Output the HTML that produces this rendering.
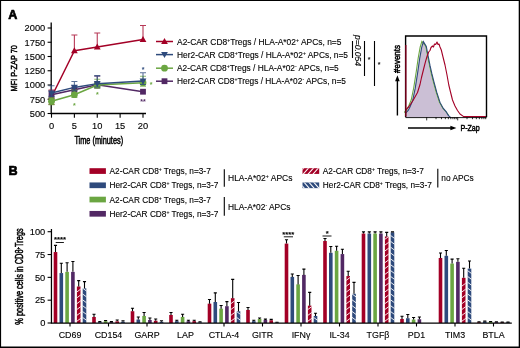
<!DOCTYPE html>
<html lang="en"><head><meta charset="utf-8"><title>Figure</title>
<style>html,body{margin:0;padding:0;background:#fff}svg{display:block;font-family:"Liberation Sans", sans-serif;will-change:transform}text{stroke:#000;stroke-width:.12px}text.c{stroke-width:.5px}text.s{stroke:none}text.h{stroke-width:.7px;stroke-linejoin:round}</style>
</head><body>
<svg width="520" height="348" viewBox="0 0 520 348">
<rect x="0" y="0" width="520" height="348" fill="#000"/>
<rect x="1.1" y="1" width="517.6" height="345.5" fill="#fff"/>
<text x="8.3" y="18.7" font-size="12.6" text-anchor="start" font-weight="bold" fill="#000" class="h">A</text>
<path d="M51.2 22.5V113.5H146" fill="none" stroke="#000" stroke-width="1.3"/>
<path d="M47.6 113.50H51.5" stroke="#000" stroke-width="1.1"/>
<text x="45.3" y="116.8" font-size="9.3" text-anchor="end" font-weight="normal" fill="#000" >500</text>
<path d="M47.6 99.25H51.5" stroke="#000" stroke-width="1.1"/>
<text x="45.3" y="102.55" font-size="9.3" text-anchor="end" font-weight="normal" fill="#000" >750</text>
<path d="M47.6 85.00H51.5" stroke="#000" stroke-width="1.1"/>
<text x="45.3" y="88.3" font-size="9.3" text-anchor="end" font-weight="normal" fill="#000" >1000</text>
<path d="M47.6 70.75H51.5" stroke="#000" stroke-width="1.1"/>
<text x="45.3" y="74.05" font-size="9.3" text-anchor="end" font-weight="normal" fill="#000" >1250</text>
<path d="M47.6 56.50H51.5" stroke="#000" stroke-width="1.1"/>
<text x="45.3" y="59.8" font-size="9.3" text-anchor="end" font-weight="normal" fill="#000" >1500</text>
<path d="M47.6 42.25H51.5" stroke="#000" stroke-width="1.1"/>
<text x="45.3" y="45.55" font-size="9.3" text-anchor="end" font-weight="normal" fill="#000" >1750</text>
<path d="M47.6 28.00H51.5" stroke="#000" stroke-width="1.1"/>
<text x="45.3" y="31.3" font-size="9.3" text-anchor="end" font-weight="normal" fill="#000" >2000</text>
<path d="M51.50 113.5V117.7" stroke="#000" stroke-width="1.1"/>
<text x="51.5" y="129.3" font-size="9.3" text-anchor="middle" font-weight="normal" fill="#000" >0</text>
<path d="M74.38 113.5V117.7" stroke="#000" stroke-width="1.1"/>
<text x="74.38" y="129.3" font-size="9.3" text-anchor="middle" font-weight="normal" fill="#000" >5</text>
<path d="M97.25 113.5V117.7" stroke="#000" stroke-width="1.1"/>
<text x="97.25" y="129.3" font-size="9.3" text-anchor="middle" font-weight="normal" fill="#000" >10</text>
<path d="M120.12 113.5V117.7" stroke="#000" stroke-width="1.1"/>
<text x="120.12" y="129.3" font-size="9.3" text-anchor="middle" font-weight="normal" fill="#000" >15</text>
<path d="M143.00 113.5V117.7" stroke="#000" stroke-width="1.1"/>
<text x="143.0" y="129.3" font-size="9.3" text-anchor="middle" font-weight="normal" fill="#000" >20</text>
<text x="98.75" y="143.7" font-size="10.3" text-anchor="middle" font-weight="normal" fill="#000" textLength="48.75" lengthAdjust="spacingAndGlyphs" class="c">Time (minutes)</text>
<text transform="translate(17.2,68.3) rotate(-90)" font-size="9.6" text-anchor="middle" class="c" fill="#000" textLength="46.2" lengthAdjust="spacingAndGlyphs">MFI P-ZAP 70</text>
<path d="M51.50 96.97V90.13M48.50 90.13H54.50" stroke="#a30026" stroke-width="1.1" fill="none" opacity="0.78"/>
<path d="M51.50 96.97V104.38M48.50 104.38H54.50" stroke="#a30026" stroke-width="1.1" fill="none" opacity="0.78"/>
<path d="M74.38 50.74V35.01M71.38 35.01H77.38" stroke="#a30026" stroke-width="1.1" fill="none" opacity="0.78"/>
<path d="M97.25 46.98V33.02M94.25 33.02H100.25" stroke="#a30026" stroke-width="1.1" fill="none" opacity="0.78"/>
<path d="M143.00 39.51V25.49M140.00 25.49H146.00" stroke="#a30026" stroke-width="1.1" fill="none" opacity="0.78"/>
<polyline points="51.50,96.97 74.38,50.74 97.25,46.98 143.00,39.51" fill="none" stroke="#a30026" stroke-width="1.5" stroke-linejoin="round"/>
<path d="M48.10 99.57L51.50 93.57L54.90 99.57Z" fill="#a30026"/>
<path d="M70.97 53.34L74.38 47.34L77.78 53.34Z" fill="#a30026"/>
<path d="M93.85 49.58L97.25 43.58L100.65 49.58Z" fill="#a30026"/>
<path d="M139.60 42.11L143.00 36.11L146.40 42.11Z" fill="#a30026"/>
<path d="M51.50 94.69V91.27M48.50 91.27H54.50" stroke="#522864" stroke-width="1.1" fill="none" opacity="0.78"/>
<path d="M51.50 94.69V98.11M48.50 98.11H54.50" stroke="#522864" stroke-width="1.1" fill="none" opacity="0.78"/>
<path d="M74.38 89.84V85.86M71.38 85.86H77.38" stroke="#522864" stroke-width="1.1" fill="none" opacity="0.78"/>
<path d="M74.38 89.84V93.27M71.38 93.27H77.38" stroke="#522864" stroke-width="1.1" fill="none" opacity="0.78"/>
<path d="M97.25 84.72V76.16M94.25 76.16H100.25" stroke="#522864" stroke-width="1.1" fill="none" opacity="0.78"/>
<path d="M97.25 84.72V88.13M94.25 88.13H100.25" stroke="#522864" stroke-width="1.1" fill="none" opacity="0.78"/>
<polyline points="51.50,94.69 74.38,89.84 97.25,84.72 143.00,91.73" fill="none" stroke="#522864" stroke-width="1.5" stroke-linejoin="round"/>
<rect x="48.60" y="91.79" width="5.8" height="5.8" fill="#522864"/>
<rect x="71.47" y="86.94" width="5.8" height="5.8" fill="#522864"/>
<rect x="94.35" y="81.81" width="5.8" height="5.8" fill="#522864"/>
<rect x="140.10" y="88.83" width="5.8" height="5.8" fill="#522864"/>
<path d="M51.50 101.25V97.83M48.50 97.83H54.50" stroke="#6ba642" stroke-width="1.1" fill="none" opacity="0.78"/>
<path d="M51.50 101.25V104.66M48.50 104.66H54.50" stroke="#6ba642" stroke-width="1.1" fill="none" opacity="0.78"/>
<path d="M74.38 94.69V90.13M71.38 90.13H77.38" stroke="#6ba642" stroke-width="1.1" fill="none" opacity="0.78"/>
<path d="M74.38 94.69V97.54M71.38 97.54H77.38" stroke="#6ba642" stroke-width="1.1" fill="none" opacity="0.78"/>
<path d="M97.25 85.00V79.30M94.25 79.30H100.25" stroke="#6ba642" stroke-width="1.1" fill="none" opacity="0.78"/>
<path d="M97.25 85.00V87.85M94.25 87.85H100.25" stroke="#6ba642" stroke-width="1.1" fill="none" opacity="0.78"/>
<path d="M143.00 82.72V76.28M140.00 76.28H146.00" stroke="#6ba642" stroke-width="1.1" fill="none" opacity="0.78"/>
<path d="M143.00 82.72V86.14M140.00 86.14H146.00" stroke="#6ba642" stroke-width="1.1" fill="none" opacity="0.78"/>
<polyline points="51.50,101.25 74.38,94.69 97.25,85.00 143.00,82.72" fill="none" stroke="#6ba642" stroke-width="1.5" stroke-linejoin="round"/>
<circle cx="51.50" cy="101.25" r="3.4" fill="#6ba642"/>
<circle cx="74.38" cy="94.69" r="3.4" fill="#6ba642"/>
<circle cx="97.25" cy="85.00" r="3.4" fill="#6ba642"/>
<circle cx="143.00" cy="82.72" r="3.4" fill="#6ba642"/>
<path d="M51.50 92.98V85.80M48.50 85.80H54.50" stroke="#2e4a7c" stroke-width="1.1" fill="none" opacity="0.78"/>
<path d="M51.50 92.98V96.40M48.50 96.40H54.50" stroke="#2e4a7c" stroke-width="1.1" fill="none" opacity="0.78"/>
<path d="M74.38 87.39V81.52M71.38 81.52H77.38" stroke="#2e4a7c" stroke-width="1.1" fill="none" opacity="0.78"/>
<path d="M74.38 87.39V90.81M71.38 90.81H77.38" stroke="#2e4a7c" stroke-width="1.1" fill="none" opacity="0.78"/>
<path d="M97.25 83.63V75.59M94.25 75.59H100.25" stroke="#2e4a7c" stroke-width="1.1" fill="none" opacity="0.78"/>
<path d="M97.25 83.63V87.05M94.25 87.05H100.25" stroke="#2e4a7c" stroke-width="1.1" fill="none" opacity="0.78"/>
<path d="M143.00 81.01V72.69M140.00 72.69H146.00" stroke="#2e4a7c" stroke-width="1.1" fill="none" opacity="0.78"/>
<path d="M143.00 81.01V84.43M140.00 84.43H146.00" stroke="#2e4a7c" stroke-width="1.1" fill="none" opacity="0.78"/>
<polyline points="51.50,92.98 74.38,87.39 97.25,83.63 143.00,81.01" fill="none" stroke="#2e4a7c" stroke-width="1.5" stroke-linejoin="round"/>
<path d="M48.10 90.38L51.50 96.38L54.90 90.38Z" fill="#2e4a7c"/>
<path d="M70.97 84.79L74.38 90.79L77.78 84.79Z" fill="#2e4a7c"/>
<path d="M93.85 81.03L97.25 87.03L100.65 81.03Z" fill="#2e4a7c"/>
<path d="M139.60 78.41L143.00 84.41L146.40 78.41Z" fill="#2e4a7c"/>
<text x="143" y="71.5" font-size="7" text-anchor="middle" font-weight="bold" fill="#2e4a7c" class="s">*</text>
<text x="151" y="86.5" font-size="7" text-anchor="middle" font-weight="bold" fill="#6ba642" class="s">*</text>
<text x="74.25" y="107.5" font-size="7" text-anchor="middle" font-weight="bold" fill="#6ba642" class="s">*</text>
<text x="97.25" y="96.8" font-size="7" text-anchor="middle" font-weight="bold" fill="#6ba642" class="s">*</text>
<text x="143" y="103.5" font-size="7" text-anchor="middle" font-weight="bold" fill="#522864" class="s">**</text>
<path d="M156 41.5H173" stroke="#a30026" stroke-width="1.5"/>
<path d="M161.10 44.10L164.50 38.10L167.90 44.10Z" fill="#a30026"/>
<text x="177" y="44.7" font-size="9" text-anchor="start" font-weight="normal" fill="#000" textLength="164.5" lengthAdjust="spacingAndGlyphs" >A2-CAR CD8<tspan dy="-3" font-size="5.5">+</tspan><tspan dy="3">Tregs / HLA-A*02</tspan><tspan dy="-3" font-size="5.5">+</tspan><tspan dy="3"> APCs, n=5</tspan></text>
<path d="M156 54.6H173" stroke="#2e4a7c" stroke-width="1.5"/>
<path d="M161.10 52.00L164.50 58.00L167.90 52.00Z" fill="#2e4a7c"/>
<text x="177" y="57.8" font-size="9" text-anchor="start" font-weight="normal" fill="#000" textLength="171" lengthAdjust="spacingAndGlyphs" >Her2-CAR CD8<tspan dy="-3" font-size="5.5">+</tspan><tspan dy="3">Tregs / HLA-A*02</tspan><tspan dy="-3" font-size="5.5">+</tspan><tspan dy="3"> APCs, n=5</tspan></text>
<path d="M156 68.2H173" stroke="#6ba642" stroke-width="1.5"/>
<circle cx="164.50" cy="68.20" r="3.4" fill="#6ba642"/>
<text x="177" y="71.4" font-size="9" text-anchor="start" font-weight="normal" fill="#000" textLength="161.75" lengthAdjust="spacingAndGlyphs" >A2-CAR CD8<tspan dy="-3" font-size="5.5">+</tspan><tspan dy="3">Tregs / HLA-A*02</tspan><tspan dy="-3" font-size="5.5">-</tspan><tspan dy="3"> APCs, n=5</tspan></text>
<path d="M156 81.2H173" stroke="#522864" stroke-width="1.5"/>
<rect x="161.60" y="78.30" width="5.8" height="5.8" fill="#522864"/>
<text x="177" y="84.4" font-size="9" text-anchor="start" font-weight="normal" fill="#000" textLength="169" lengthAdjust="spacingAndGlyphs" >Her2-CAR CD8<tspan dy="-3" font-size="5.5">+</tspan><tspan dy="3">Tregs / HLA-A*02</tspan><tspan dy="-3" font-size="5.5">-</tspan><tspan dy="3"> APCs, n=5</tspan></text>
<path d="M352.5 41V58M364.5 41V76M374.5 41V86" stroke="#000" stroke-width="1.1" fill="none"/>
<text transform="translate(354.7,35) rotate(90)" font-size="8.6" font-style="italic" fill="#000" textLength="31" lengthAdjust="spacingAndGlyphs">p=0.054</text>
<text x="369.2" y="61.5" font-size="7" text-anchor="middle" font-weight="bold" fill="#111" class="s">*</text>
<text x="379.2" y="66.8" font-size="7" text-anchor="middle" font-weight="bold" fill="#111" class="s">*</text>
<path d="M405.6 117.2L405.6 112.5L408 110L410 106L412.5 100L415 88L417.5 72L419.5 58L421.5 47L423.2 41.3L425 46L426.5 54L428.7 65L430.5 73L432.5 81L435.5 92L438.7 102L442 108L445 111.5L448 115L450.5 117.2Z" fill="#cbbfd5"/>
<path d="M404.3 112.5L406.7 110L408.7 106L411.2 100L413.7 88L416.2 72L418.2 58L420.2 47L421.9 41.3L425.6 46L427.1 54L429.3 65L431.1 73L433.1 81L436.1 92L439.3 102L442.6 108L445.6 111.5L448.6 115" fill="none" stroke="#6ba642" stroke-width="1.1"/>
<path d="M405.8 112.9L408.2 110.4L410.2 106.4L412.7 100.4L415.2 88.4L417.7 72.4L419.7 58.4L421.7 47.4L423.4 41.699999999999996L426.3 46.4L427.8 54.4L430.0 65.4L431.8 73.4L433.8 81.4L436.8 92.4L440.0 102.4L443.3 108.4L446.3 111.9L448.3 115.4L450.8 117.60000000000001" fill="none" stroke="#2e4a7c" stroke-width="1.1"/>
<path d="M405.9 109.8L409 106.5L413 100.5L417.5 92.5L420 84.5L421.5 77.5L423.5 69.5L425.3 62.3L427 56.5L428.7 52L430 50.5L431 47.5L432.5 46L433.5 47L434.5 44L435.7 44.5L437 42L438 44.5L439 44L440 47L441.3 50L443 57L445 65L447 75L448.8 85L450.5 92L452.5 100L455 106L457.5 110.5L460 114L463.7 116.6L486 116.6" fill="none" stroke="#a30026" stroke-width="1.1" stroke-linejoin="round"/>
<path d="M405.6 117.2V36H486.5V117.2" fill="none" stroke="#000" stroke-width="1.4"/>
<path d="M405.6 117.60000000000001H486.5" fill="none" stroke="#000" stroke-width="0.9"/>
<path d="M405.9 45V116.6" stroke="#a30026" stroke-width="1.1"/>
<path d="M426.7 117.2v3.2M436.03 117.2v2M441.49 117.2v2M445.36 117.2v2M448.37 117.2v2M450.82 117.2v2M452.90 117.2v2M454.70 117.2v2M456.28 117.2v2M457.7 117.2v3.2M467.03 117.2v2M472.49 117.2v2M476.36 117.2v2M479.37 117.2v2M481.82 117.2v2M483.90 117.2v2M485.70 117.2v2" stroke="#000" stroke-width="0.8"/>
<path d="M397.4 115.5V80" stroke="#000" stroke-width="1.4"/><path d="M397.4 75.3l-2.3 6h4.6z" fill="#000"/>
<path d="M408 128H452" stroke="#000" stroke-width="1.4"/><path d="M456.4 128l-6 -2.3v4.6z" fill="#000"/>
<text x="460.4" y="131.2" font-size="9.4" text-anchor="start" font-weight="normal" fill="#000" textLength="19.4" lengthAdjust="spacingAndGlyphs" class="c">P-Zap</text>
<text transform="translate(400.4,73) rotate(-90)" font-size="9.6" class="c" fill="#000" textLength="28" lengthAdjust="spacingAndGlyphs">#events</text>
<text x="8.5" y="174.5" font-size="12.6" text-anchor="start" font-weight="bold" fill="#000" class="h">B</text>
<defs><clipPath id="c1"><rect x="302.5" y="168.2" width="16.7" height="5.7"/></clipPath><clipPath id="c2"><rect x="302.5" y="182.45" width="16.7" height="5.7"/></clipPath></defs>
<rect x="89.5" y="168.2" width="16.4" height="5.7" fill="#a30026"/>
<text x="109.5" y="174.2" font-size="9" text-anchor="start" font-weight="normal" fill="#000" textLength="101.25" lengthAdjust="spacingAndGlyphs" >A2-CAR CD8<tspan dy="-3" font-size="5.5">+</tspan><tspan dy="3"> Tregs, n=3-7</tspan></text>
<rect x="89.5" y="182.45" width="16.4" height="5.7" fill="#2e4a7c"/>
<text x="109.5" y="188.45" font-size="9" text-anchor="start" font-weight="normal" fill="#000" textLength="108.75" lengthAdjust="spacingAndGlyphs" >Her2-CAR CD8<tspan dy="-3" font-size="5.5">+</tspan><tspan dy="3"> Tregs, n=3-7</tspan></text>
<rect x="89.5" y="196.7" width="16.4" height="5.7" fill="#6ba642"/>
<text x="109.5" y="202.7" font-size="9" text-anchor="start" font-weight="normal" fill="#000" textLength="101.25" lengthAdjust="spacingAndGlyphs" >A2-CAR CD8<tspan dy="-3" font-size="5.5">+</tspan><tspan dy="3"> Tregs, n=3-7</tspan></text>
<rect x="89.5" y="210.95" width="16.4" height="5.7" fill="#522864"/>
<text x="109.5" y="216.95" font-size="9" text-anchor="start" font-weight="normal" fill="#000" textLength="108.75" lengthAdjust="spacingAndGlyphs" >Her2-CAR CD8<tspan dy="-3" font-size="5.5">+</tspan><tspan dy="3"> Tregs, n=3-7</tspan></text>
<path d="M224.3 169.2V186.8M224.3 197V215.8M437.8 168.8V187.5" stroke="#000" stroke-width="1.1"/>
<text x="228" y="181.2" font-size="9" text-anchor="start" font-weight="normal" fill="#000" textLength="64.5" lengthAdjust="spacingAndGlyphs" >HLA-A*02<tspan dy="-3" font-size="5.5">+</tspan><tspan dy="3"> APCs</tspan></text>
<text x="228" y="209.5" font-size="9" text-anchor="start" font-weight="normal" fill="#000" textLength="62.5" lengthAdjust="spacingAndGlyphs" >HLA-A*02<tspan dy="-3" font-size="5.5">-</tspan><tspan dy="3"> APCs</tspan></text>
<rect x="302.5" y="168.2" width="16.7" height="5.7" fill="#a30026"/>
<rect x="302.5" y="182.45" width="16.7" height="5.7" fill="#2e4a7c"/>
<g clip-path="url(#c1)" stroke="#fff" stroke-width="1.05"><path d="M297.50 175.05L304.50 167.05"/><path d="M302.40 175.05L309.40 167.05"/><path d="M307.30 175.05L314.30 167.05"/><path d="M312.20 175.05L319.20 167.05"/></g>
<g clip-path="url(#c2)" stroke="#fff" stroke-width="1.05"><path d="M298.30 181.3L305.30 189.3"/><path d="M303.20 181.3L310.20 189.3"/><path d="M308.10 181.3L315.10 189.3"/><path d="M312.90 181.3L319.90 189.3"/></g>
<text x="322.8" y="174.2" font-size="9" text-anchor="start" font-weight="normal" fill="#000" textLength="101" lengthAdjust="spacingAndGlyphs" >A2-CAR CD8<tspan dy="-3" font-size="5.5">+</tspan><tspan dy="3"> Tregs, n=3-7</tspan></text>
<text x="322.8" y="188.45" font-size="9" text-anchor="start" font-weight="normal" fill="#000" textLength="109" lengthAdjust="spacingAndGlyphs" >Her2-CAR CD8<tspan dy="-3" font-size="5.5">+</tspan><tspan dy="3"> Tregs, n=3-7</tspan></text>
<text x="441.3" y="181.2" font-size="9" text-anchor="start" font-weight="normal" fill="#000" textLength="32.5" lengthAdjust="spacingAndGlyphs" >no APCs</text>
<path d="M47.6 323.00H51.75" stroke="#000" stroke-width="1.1"/>
<text x="45.3" y="326.3" font-size="9.3" text-anchor="end" font-weight="normal" fill="#000" >0</text>
<path d="M47.6 300.18H51.75" stroke="#000" stroke-width="1.1"/>
<text x="45.3" y="303.48" font-size="9.3" text-anchor="end" font-weight="normal" fill="#000" >25</text>
<path d="M47.6 277.35H51.75" stroke="#000" stroke-width="1.1"/>
<text x="45.3" y="280.65" font-size="9.3" text-anchor="end" font-weight="normal" fill="#000" >50</text>
<path d="M47.6 254.52H51.75" stroke="#000" stroke-width="1.1"/>
<text x="45.3" y="257.82" font-size="9.3" text-anchor="end" font-weight="normal" fill="#000" >75</text>
<path d="M47.6 231.70H51.75" stroke="#000" stroke-width="1.1"/>
<text x="45.3" y="235.0" font-size="9.3" text-anchor="end" font-weight="normal" fill="#000" >100</text>
<text transform="translate(22.5,276.5) rotate(-90)" font-size="10.3" text-anchor="middle" class="c" fill="#000" textLength="96.5" lengthAdjust="spacingAndGlyphs">% positive cells in CD8<tspan dy="-3" font-size="6">+</tspan><tspan dy="3">Tregs</tspan></text>
<text x="70.0" y="338.2" font-size="8.9" text-anchor="middle" font-weight="normal" fill="#000" >CD69</text>
<text x="108.5" y="338.2" font-size="8.9" text-anchor="middle" font-weight="normal" fill="#000" >CD154</text>
<text x="147.0" y="338.2" font-size="8.9" text-anchor="middle" font-weight="normal" fill="#000" >GARP</text>
<text x="185.5" y="338.2" font-size="8.9" text-anchor="middle" font-weight="normal" fill="#000" >LAP</text>
<text x="224.0" y="338.2" font-size="8.9" text-anchor="middle" font-weight="normal" fill="#000" >CTLA-4</text>
<text x="262.5" y="338.2" font-size="8.9" text-anchor="middle" font-weight="normal" fill="#000" >GITR</text>
<text x="301.0" y="338.2" font-size="8.9" text-anchor="middle" font-weight="normal" fill="#000" >IFNγ</text>
<text x="339.5" y="338.2" font-size="8.9" text-anchor="middle" font-weight="normal" fill="#000" >IL-34</text>
<text x="378.0" y="338.2" font-size="8.9" text-anchor="middle" font-weight="normal" fill="#000" >TGFβ</text>
<text x="416.5" y="338.2" font-size="8.9" text-anchor="middle" font-weight="normal" fill="#000" >PD1</text>
<text x="455.0" y="338.2" font-size="8.9" text-anchor="middle" font-weight="normal" fill="#000" >TIM3</text>
<text x="493.5" y="338.2" font-size="8.9" text-anchor="middle" font-weight="normal" fill="#000" >BTLA</text>
<rect x="53.70" y="252.06" width="3.6" height="70.94" fill="#a30026"/><rect x="59.50" y="273.06" width="3.6" height="49.94" fill="#2e4a7c"/><rect x="65.30" y="271.87" width="3.6" height="51.13" fill="#6ba642"/><rect x="71.10" y="271.87" width="3.6" height="51.13" fill="#522864"/><rect x="76.90" y="286.48" width="3.6" height="36.52" fill="#a30026"/><rect x="82.70" y="288.31" width="3.6" height="34.69" fill="#2e4a7c"/><rect x="92.20" y="316.97" width="3.6" height="6.03" fill="#a30026"/><rect x="98.00" y="322.09" width="3.6" height="0.91" fill="#2e4a7c"/><rect x="103.80" y="321.17" width="3.6" height="1.83" fill="#6ba642"/><rect x="109.60" y="322.09" width="3.6" height="0.91" fill="#522864"/><rect x="115.40" y="321.36" width="3.6" height="1.64" fill="#a30026"/><rect x="121.20" y="321.63" width="3.6" height="1.37" fill="#2e4a7c"/><rect x="130.70" y="311.22" width="3.6" height="11.78" fill="#a30026"/><rect x="136.50" y="319.53" width="3.6" height="3.47" fill="#2e4a7c"/><rect x="142.30" y="315.97" width="3.6" height="7.03" fill="#6ba642"/><rect x="148.10" y="319.99" width="3.6" height="3.01" fill="#522864"/><rect x="153.90" y="320.72" width="3.6" height="2.28" fill="#a30026"/><rect x="159.70" y="321.72" width="3.6" height="1.28" fill="#2e4a7c"/><rect x="169.20" y="314.97" width="3.6" height="8.03" fill="#a30026"/><rect x="175.00" y="321.17" width="3.6" height="1.83" fill="#2e4a7c"/><rect x="180.80" y="316.97" width="3.6" height="6.03" fill="#6ba642"/><rect x="186.60" y="321.17" width="3.6" height="1.83" fill="#522864"/><rect x="192.40" y="321.17" width="3.6" height="1.83" fill="#a30026"/><rect x="198.20" y="322.27" width="3.6" height="0.73" fill="#2e4a7c"/><rect x="207.70" y="303.64" width="3.6" height="19.36" fill="#a30026"/><rect x="213.50" y="302.00" width="3.6" height="21.00" fill="#2e4a7c"/><rect x="219.30" y="308.67" width="3.6" height="14.33" fill="#6ba642"/><rect x="225.10" y="306.20" width="3.6" height="16.80" fill="#522864"/><rect x="230.90" y="298.17" width="3.6" height="24.83" fill="#a30026"/><rect x="236.70" y="311.22" width="3.6" height="11.78" fill="#2e4a7c"/><rect x="246.20" y="309.94" width="3.6" height="13.06" fill="#a30026"/><rect x="252.00" y="321.17" width="3.6" height="1.83" fill="#2e4a7c"/><rect x="257.80" y="318.98" width="3.6" height="4.02" fill="#6ba642"/><rect x="263.60" y="319.99" width="3.6" height="3.01" fill="#522864"/><rect x="269.40" y="320.26" width="3.6" height="2.74" fill="#a30026"/><rect x="275.20" y="322.54" width="3.6" height="0.46" fill="#2e4a7c"/><rect x="284.70" y="243.57" width="3.6" height="79.43" fill="#a30026"/><rect x="290.50" y="276.89" width="3.6" height="46.11" fill="#2e4a7c"/><rect x="296.30" y="284.38" width="3.6" height="38.62" fill="#6ba642"/><rect x="302.10" y="274.88" width="3.6" height="48.12" fill="#522864"/><rect x="307.90" y="305.65" width="3.6" height="17.35" fill="#a30026"/><rect x="313.70" y="315.97" width="3.6" height="7.03" fill="#2e4a7c"/><rect x="323.20" y="241.01" width="3.6" height="81.99" fill="#a30026"/><rect x="329.00" y="252.79" width="3.6" height="70.21" fill="#2e4a7c"/><rect x="334.80" y="250.78" width="3.6" height="72.22" fill="#6ba642"/><rect x="340.60" y="254.07" width="3.6" height="68.93" fill="#522864"/><rect x="346.40" y="276.07" width="3.6" height="46.93" fill="#a30026"/><rect x="352.20" y="293.78" width="3.6" height="29.22" fill="#2e4a7c"/><rect x="361.70" y="233.53" width="3.6" height="89.47" fill="#a30026"/><rect x="367.50" y="233.53" width="3.6" height="89.47" fill="#2e4a7c"/><rect x="373.30" y="233.53" width="3.6" height="89.47" fill="#6ba642"/><rect x="379.10" y="233.53" width="3.6" height="89.47" fill="#522864"/><rect x="384.90" y="236.45" width="3.6" height="86.55" fill="#a30026"/><rect x="390.70" y="232.34" width="3.6" height="90.66" fill="#2e4a7c"/><rect x="400.20" y="318.98" width="3.6" height="4.02" fill="#a30026"/><rect x="406.00" y="318.25" width="3.6" height="4.75" fill="#2e4a7c"/><rect x="411.80" y="319.53" width="3.6" height="3.47" fill="#6ba642"/><rect x="417.60" y="319.26" width="3.6" height="3.74" fill="#522864"/><rect x="438.70" y="257.99" width="3.6" height="65.01" fill="#a30026"/><rect x="444.50" y="255.80" width="3.6" height="67.20" fill="#2e4a7c"/><rect x="450.30" y="263.56" width="3.6" height="59.44" fill="#6ba642"/><rect x="456.10" y="261.83" width="3.6" height="61.17" fill="#522864"/><rect x="461.90" y="277.81" width="3.6" height="45.19" fill="#a30026"/><rect x="467.70" y="268.59" width="3.6" height="54.41" fill="#2e4a7c"/><rect x="477.20" y="322.27" width="3.6" height="0.73" fill="#a30026"/><rect x="483.00" y="321.63" width="3.6" height="1.37" fill="#2e4a7c"/><rect x="488.80" y="321.90" width="3.6" height="1.10" fill="#6ba642"/><rect x="494.60" y="322.09" width="3.6" height="0.91" fill="#522864"/><rect x="500.40" y="322.36" width="3.6" height="0.64" fill="#a30026"/><rect x="506.20" y="322.36" width="3.6" height="0.64" fill="#2e4a7c"/>
<path d="M76.70 292.10L80.70 289.10M76.70 297.95L80.70 294.95M76.70 303.80L80.70 300.80M76.70 309.65L80.70 306.65M76.70 315.50L80.70 312.50M76.70 321.35L80.70 318.35M82.50 288.05L86.50 291.05M82.50 293.90L86.50 296.90M82.50 299.75L86.50 302.75M82.50 305.60L86.50 308.60M82.50 311.45L86.50 314.45M82.50 317.30L86.50 320.30M230.70 303.80L234.70 300.80M230.70 309.65L234.70 306.65M230.70 315.50L234.70 312.50M230.70 321.35L234.70 318.35M236.50 311.45L240.50 314.45M236.50 317.30L240.50 320.30M307.70 309.65L311.70 306.65M307.70 315.50L311.70 312.50M307.70 321.35L311.70 318.35M313.50 317.30L317.50 320.30M346.20 280.40L350.20 277.40M346.20 286.25L350.20 283.25M346.20 292.10L350.20 289.10M346.20 297.95L350.20 294.95M346.20 303.80L350.20 300.80M346.20 309.65L350.20 306.65M346.20 315.50L350.20 312.50M346.20 321.35L350.20 318.35M352.00 293.90L356.00 296.90M352.00 299.75L356.00 302.75M352.00 305.60L356.00 308.60M352.00 311.45L356.00 314.45M352.00 317.30L356.00 320.30M384.70 239.45L388.70 236.45M384.70 245.30L388.70 242.30M384.70 251.15L388.70 248.15M384.70 257.00L388.70 254.00M384.70 262.85L388.70 259.85M384.70 268.70L388.70 265.70M384.70 274.55L388.70 271.55M384.70 280.40L388.70 277.40M384.70 286.25L388.70 283.25M384.70 292.10L388.70 289.10M384.70 297.95L388.70 294.95M384.70 303.80L388.70 300.80M384.70 309.65L388.70 306.65M384.70 315.50L388.70 312.50M384.70 321.35L388.70 318.35M390.50 235.40L394.50 238.40M390.50 241.25L394.50 244.25M390.50 247.10L394.50 250.10M390.50 252.95L394.50 255.95M390.50 258.80L394.50 261.80M390.50 264.65L394.50 267.65M390.50 270.50L394.50 273.50M390.50 276.35L394.50 279.35M390.50 282.20L394.50 285.20M390.50 288.05L394.50 291.05M390.50 293.90L394.50 296.90M390.50 299.75L394.50 302.75M390.50 305.60L394.50 308.60M390.50 311.45L394.50 314.45M390.50 317.30L394.50 320.30M461.70 286.25L465.70 283.25M461.70 292.10L465.70 289.10M461.70 297.95L465.70 294.95M461.70 303.80L465.70 300.80M461.70 309.65L465.70 306.65M461.70 315.50L465.70 312.50M461.70 321.35L465.70 318.35M467.50 270.50L471.50 273.50M467.50 276.35L471.50 279.35M467.50 282.20L471.50 285.20M467.50 288.05L471.50 291.05M467.50 293.90L471.50 296.90M467.50 299.75L471.50 302.75M467.50 305.60L471.50 308.60M467.50 311.45L471.50 314.45M467.50 317.30L471.50 320.30" stroke="#fff" stroke-width="0.9" fill="none"/>
<path d="M55.50 252.06V245.39M53.95 245.39H57.05M61.30 273.06V263.29M59.75 263.29H62.85M67.10 271.87V262.74M65.55 262.74H68.65M72.90 271.87V261.56M71.35 261.56H74.45M78.70 286.48V280.64M77.15 280.64H80.25M84.50 288.31V281.64M82.95 281.64H86.05M94.00 316.97V314.24M92.45 314.24H95.55M99.80 322.09V321.54M98.25 321.54H101.35M105.60 321.17V320.44M104.05 320.44H107.15M111.40 322.09V321.63M109.85 321.63H112.95M117.20 321.36V319.99M115.65 319.99H118.75M123.00 321.63V320.81M121.45 320.81H124.55M132.50 311.22V308.21M130.95 308.21H134.05M138.30 319.53V316.97M136.75 316.97H139.85M144.10 315.97V312.50M142.55 312.50H145.65M149.90 319.99V317.98M148.35 317.98H151.45M155.70 320.72V318.98M154.15 318.98H157.25M161.50 321.72V320.72M159.95 320.72H163.05M171.00 314.97V312.50M169.45 312.50H172.55M176.80 321.17V320.26M175.25 320.26H178.35M182.60 316.97V314.24M181.05 314.24H184.15M188.40 321.17V320.26M186.85 320.26H189.95M194.20 321.17V320.26M192.65 320.26H195.75M200.00 322.27V321.72M198.45 321.72H201.55M209.50 303.64V299.44M207.95 299.44H211.05M215.30 302.00V292.87M213.75 292.87H216.85M221.10 308.67V305.47M219.55 305.47H222.65M226.90 306.20V301.64M225.35 301.64H228.45M232.70 298.17V279.36M231.15 279.36H234.25M238.50 311.22V302.46M236.95 302.46H240.05M248.00 309.94V307.48M246.45 307.48H249.55M253.80 321.17V320.26M252.25 320.26H255.35M259.60 318.98V317.98M258.05 317.98H261.15M265.40 319.99V319.17M263.85 319.17H266.95M271.20 320.26V319.35M269.65 319.35H272.75M277.00 322.54V322.27M275.45 322.27H278.55M286.50 243.57V239.73M284.95 239.73H288.05M292.30 276.89V274.06M290.75 274.06H293.85M298.10 284.38V275.52M296.55 275.52H299.65M303.90 274.88V269.13M302.35 269.13H305.45M309.70 305.65V292.41M308.15 292.41H311.25M315.50 315.97V313.23M313.95 313.23H317.05M325.00 241.01V238.46M323.45 238.46H326.55M330.80 252.79V246.49M329.25 246.49H332.35M336.60 250.78V246.31M335.05 246.31H338.15M342.40 254.07V249.23M340.85 249.23H343.95M348.20 276.07V271.32M346.65 271.32H349.75M354.00 293.78V282.37M352.45 282.37H355.55M363.50 233.53V231.88M361.95 231.88H365.05M369.30 233.53V231.88M367.75 231.88H370.85M375.10 233.53V231.88M373.55 231.88H376.65M380.90 233.53V231.88M379.35 231.88H382.45M386.70 236.45V232.34M385.15 232.34H388.25M392.50 232.34V231.88M390.95 231.88H394.05M402.00 318.98V316.24M400.45 316.24H403.55M407.80 318.25V314.51M406.25 314.51H409.35M413.60 319.53V317.52M412.05 317.52H415.15M419.40 319.26V316.97M417.85 316.97H420.95M440.50 257.99V253.06M438.95 253.06H442.05M446.30 255.80V250.51M444.75 250.51H447.85M452.10 263.56V259.09M450.55 259.09H453.65M457.90 261.83V258.82M456.35 258.82H459.45M463.70 277.81V268.22M462.15 268.22H465.25M469.50 268.59V261.01M467.95 261.01H471.05M479.00 322.27V321.90M477.45 321.90H480.55M484.80 321.63V321.17M483.25 321.17H486.35M490.60 321.90V321.54M489.05 321.54H492.15M496.40 322.09V321.72M494.85 321.72H497.95M502.20 322.36V322.09M500.65 322.09H503.75M508.00 322.36V322.09M506.45 322.09H509.55" stroke="#000" stroke-width="1.1" fill="none"/>
<path d="M70.0 323.0v3.4M108.5 323.0v3.4M147.0 323.0v3.4M224.0 323.0v3.4M262.5 323.0v3.4M301.0 323.0v3.4M339.5 323.0v3.4M378.0 323.0v3.4M416.5 323.0v3.4M455.0 323.0v3.4M493.5 323.0v3.4" stroke="#000" stroke-width="1.1" fill="none"/>
<path d="M51.45 229V323.0H511.8" fill="none" stroke="#000" stroke-width="1.25"/>
<path d="M55.7 242.5H63.9M283.8 236.8H293M322.5 236H331.5" stroke="#000" stroke-width="0.9"/>
<text x="59.9" y="242.2" font-size="7.6" text-anchor="middle" font-weight="bold" fill="#000" textLength="12" lengthAdjust="spacingAndGlyphs" >****</text>
<text x="288.3" y="236.7" font-size="7.6" text-anchor="middle" font-weight="bold" fill="#000" textLength="12" lengthAdjust="spacingAndGlyphs" >****</text>
<text x="327.3" y="235.9" font-size="7.6" text-anchor="middle" font-weight="bold" fill="#000" >*</text>
</svg>
</body></html>
